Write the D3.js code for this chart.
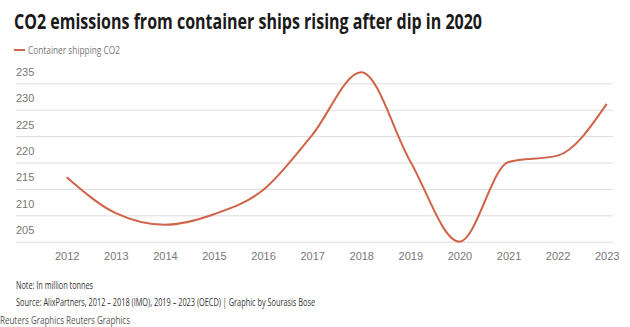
<!DOCTYPE html>
<html>
<head>
<meta charset="utf-8">
<script src="https://cdn.jsdelivr.net/npm/d3@7"></script>
<style>
  body { margin: 0; background: #fff; }
  svg { display: block; font-family: "Open Sans", "Noto Sans", sans-serif; }
</style>
</head>
<body>
<div id="chart"></div>
<script>
// data
const years = [2012, 2013, 2014, 2015, 2016, 2017, 2018, 2019, 2020, 2021, 2022, 2023];
const co2 = [217.2, 210.4, 208.2, 210.2, 214.8, 225.2, 237.1, 220.2, 205.0, 220.1, 221.3, 231.1];
const yTicks = [205, 210, 215, 220, 225, 230, 235];
const seriesName = "Container shipping CO2";
const title = "CO2 emissions from container ships rising after dip in 2020";
const note = "Note: In million tonnes";
const source = "Source: AlixPartners, 2012 \u2013 2018 (IMO), 2019 \u2013 2023 (OECD) | Graphic by Sourasis Bose";
const credit = "Reuters Graphics Reuters Graphics";

const W = 630, H = 327;
const color = "#d0644a";

const svg = d3.select("#chart")
    .append("svg")
    .attr("width", W)
    .attr("height", H);

// title
svg.append("text")
    .attr("x", 14).attr("y", 29)
    .attr("font-size", 21).attr("font-weight", 700)
    .attr("fill", "#1a1a1a")
    .attr("textLength", 468).attr("lengthAdjust", "spacingAndGlyphs")
    .text(title);

// legend
svg.append("line")
    .attr("x1", 14).attr("x2", 25).attr("y1", 50).attr("y2", 50)
    .attr("stroke", color).attr("stroke-width", 2);
svg.append("text")
    .attr("x", 28).attr("y", 54)
    .attr("font-size", 11).attr("fill", "#777")
    .attr("textLength", 92).attr("lengthAdjust", "spacingAndGlyphs")
    .text(seriesName);

// scales
const x = d3.scaleLinear().domain([2012, 2023]).range([66.7, 606.7]);
const y = d3.scaleLinear().domain([205, 235]).range([241.7, 83.3]);

// gridlines + y labels
const yAxis = svg.append("g").attr("class", "y axis")
    .attr("transform", "translate(16,0)")
    .call(d3.axisRight(y).tickValues(yTicks).tickSize(597).tickFormat(d3.format("d")));
yAxis.select(".domain").remove();
yAxis.selectAll(".tick line").attr("stroke", "#dedede").attr("stroke-width", 1);
yAxis.selectAll(".tick text")
    .attr("x", 0).attr("dy", -8)
    .attr("text-anchor", "start")
    .attr("font-size", 11).attr("fill", "#777");

// x labels
const xAxis = svg.append("g").attr("class", "x axis")
    .attr("transform", "translate(0,241.7)")
    .call(d3.axisBottom(x).tickValues(years).tickSize(0).tickFormat(d3.format("d")));
xAxis.select(".domain").remove();
xAxis.selectAll(".tick text")
    .attr("dy", 15)
    .attr("font-size", 11).attr("fill", "#777");

// line
const data = years.map((yr, i) => ({ x: yr, y: co2[i] }));
const line = d3.line().x(d => x(d.x)).y(d => y(d.y)).curve(d3.curveMonotoneX);
svg.append("path")
    .datum(data)
    .attr("d", line)
    .attr("fill", "none")
    .attr("stroke", color)
    .attr("stroke-width", 2);

// footer
svg.append("text")
    .attr("x", 16).attr("y", 289)
    .attr("font-size", 10).attr("fill", "#333")
    .attr("textLength", 77).attr("lengthAdjust", "spacingAndGlyphs")
    .text(note);
svg.append("text")
    .attr("x", 16).attr("y", 306)
    .attr("font-size", 10).attr("fill", "#333")
    .attr("textLength", 299).attr("lengthAdjust", "spacingAndGlyphs")
    .text(source);
svg.append("text")
    .attr("x", 0).attr("y", 324)
    .attr("font-size", 10).attr("fill", "#555")
    .attr("textLength", 130).attr("lengthAdjust", "spacingAndGlyphs")
    .text(credit);
</script>
</body>
</html>
